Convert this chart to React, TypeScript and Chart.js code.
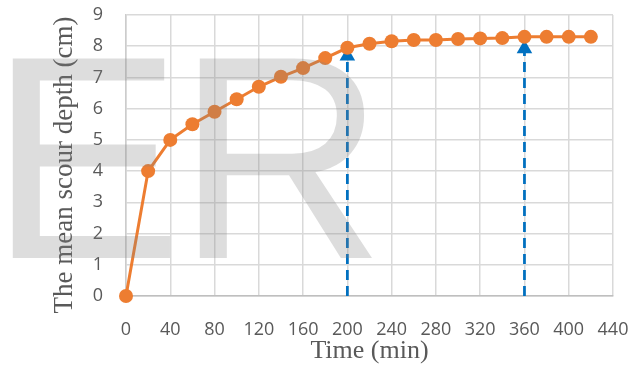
import React, { useEffect, useRef } from "react";
import { Chart, registerables } from "chart.js";

Chart.register(...registerables);

const times = [0, 20, 40, 60, 80, 100, 120, 140, 160, 180, 200, 220, 240, 260, 280, 300, 320, 340, 360, 380, 400, 420];
const depths = [0, 4.0, 5.0, 5.5, 5.9, 6.3, 6.7, 7.02, 7.3, 7.62, 7.95, 8.08, 8.16, 8.2, 8.2, 8.23, 8.25, 8.26, 8.3, 8.3, 8.3, 8.3];
const markerTimes = [200, 360];
const markerDepths = [7.69, 7.92];
const xTicks = { min: 0, max: 440, step: 40 };
const yTicks = { min: 0, max: 9, step: 1 };
const xTitle = "Time (min)";
const yTitle = "The mean scour depth (cm)";
const watermarkLetters = ["E", "R"];

export default function App() {
  const ref = useRef<HTMLCanvasElement | null>(null);

  useEffect(() => {
    document.body.style.margin = "0";
    const canvas = ref.current;
    if (!canvas) return;

    const markerSets = markerTimes.map((t, i) => ({
      label: "marker" + i,
      data: [
        { x: t, y: 0 },
        { x: t, y: markerDepths[i] },
      ],
      borderColor: "#0070C0",
      backgroundColor: "#0070C0",
      borderWidth: 2.75,
      borderDash: [10, 6],
      pointStyle: "triangle" as const,
      pointRadius: [0, 9],
      pointBorderWidth: 0,
      pointBackgroundColor: "#0070C0",
      pointBorderColor: "#0070C0",
      clip: false,
      order: 2,
    }));

    const overlayPlugin = {
      id: "overlay",
      afterDraw(chart: any) {
        const ctx = chart.ctx;
        ctx.save();
        ctx.translate(72, 165);
        ctx.rotate(-Math.PI / 2);
        ctx.font = '27px "Liberation Serif", "Times New Roman", serif';
        ctx.fillStyle = "#595959";
        ctx.textAlign = "center";
        ctx.textBaseline = "alphabetic";
        ctx.fillText(yTitle, 0, 0);
        ctx.restore();

        ctx.save();
        ctx.font = '290px "Liberation Sans", Arial, sans-serif';
        ctx.fillStyle = "rgba(128,128,128,0.27)";
        ctx.textBaseline = "alphabetic";
        ctx.textAlign = "left";
        ctx.fillText(watermarkLetters[0], -11, 258);
        ctx.fillText(watermarkLetters[1], 176, 258);
        ctx.restore();
      },
    };

    const chart = new Chart(canvas, {
      type: "line",
      data: {
        datasets: [
          {
            label: "depth",
            data: times.map((t, i) => ({ x: t, y: depths[i] })),
            borderColor: "#ED7D31",
            backgroundColor: "#ED7D31",
            borderWidth: 3,
            pointRadius: 7,
            pointBorderWidth: 0,
            pointBackgroundColor: "#ED7D31",
            clip: false,
            order: 1,
          },
          ...markerSets,
        ] as any,
      },
      options: {
        animation: false,
        responsive: false,
        events: [],
        layout: { padding: { top: 15, right: 31, left: 0, bottom: 0 } },
        plugins: {
          legend: { display: false },
          tooltip: { enabled: false },
        },
        scales: {
          x: {
            type: "linear",
            min: xTicks.min,
            max: xTicks.max,
            afterFit(scale: any) {
              scale.height = 71;
              scale.paddingLeft = 0;
              scale.paddingRight = 0;
            },
            ticks: {
              stepSize: xTicks.step,
              padding: 23,
              color: "#595959",
              font: { family: '"Open Sans", sans-serif', size: 18 },
              maxRotation: 0,
              autoSkip: false,
            },
            grid: { color: "#d9d9d9", lineWidth: 1.5, drawTicks: false },
            border: { color: "#bfbfbf", width: 1.5 },
            title: {
              display: true,
              text: xTitle,
              color: "#595959",
              font: { family: '"Liberation Serif", "Times New Roman", serif', size: 26 },
              padding: { top: 0, bottom: 0 },
            },
          },
          y: {
            type: "linear",
            min: yTicks.min,
            max: yTicks.max,
            afterFit(scale: any) {
              scale.width = 126;
              scale.paddingTop = 0;
              scale.paddingBottom = 0;
            },
            ticks: {
              stepSize: yTicks.step,
              padding: 23,
              color: "#595959",
              font: { family: '"Open Sans", sans-serif', size: 18 },
            },
            grid: { color: "#d9d9d9", lineWidth: 1.5, drawTicks: false },
            border: { color: "#cccccc", width: 1.5 },
            title: { display: false },
          },
        },
      },
      plugins: [overlayPlugin],
    });

    return () => chart.destroy();
  }, []);

  return (
    <div style={{ width: 644, height: 367, position: "relative", background: "#fff" }}>
      <canvas ref={ref} width={644} height={367} style={{ display: "block" }} />
    </div>
  );
}
